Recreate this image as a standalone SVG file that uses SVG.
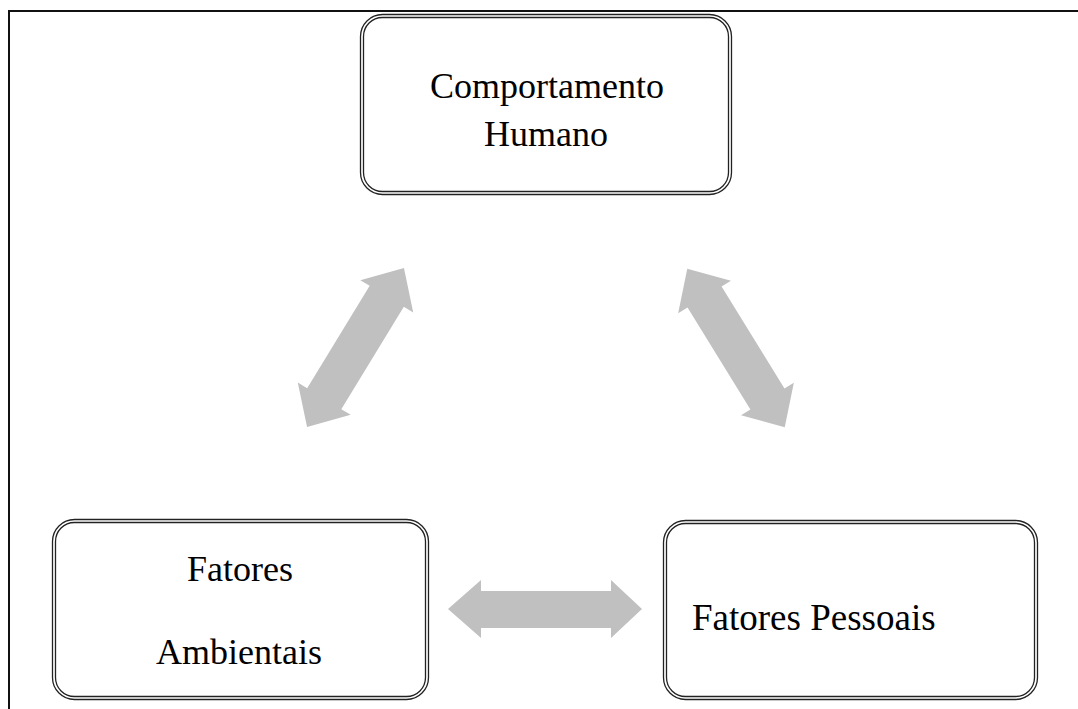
<svg xmlns="http://www.w3.org/2000/svg" width="1078" height="709" viewBox="0 0 1078 709">
<style>
.frame{stroke:#111;stroke-width:2;fill:none}
.bo{fill:#fff;stroke:#222;stroke-width:1.3}
.bi{fill:none;stroke:#222;stroke-width:1.3}
.t{font-family:"Liberation Serif","Times New Roman",serif;font-size:36px;fill:#000}
.arr{fill:#c0c0c0}
</style>
<defs>
<path id="dArr" d="M-93,0 L-60,-31 L-60,-20 L60,-20 L60,-31 L93,0 L60,31 L60,20 L-60,20 L-60,31 Z"/>
</defs>
<rect width="1078" height="709" fill="#fff"/>
<g id="frame">
<line class="frame" x1="8" y1="11" x2="1078" y2="11"/>
<line class="frame" x1="9" y1="10" x2="9" y2="709"/>
</g>
<g id="connectors">
<use href="#dArr" class="arr" transform="translate(355.5,347.5) rotate(-58.6)"/>
<use href="#dArr" class="arr" transform="translate(736,348) rotate(58.4)"/>
<path class="arr" d="M448,609 L481,580 L481,591 L611,591 L611,580 L642,609 L611,638 L611,628 L481,628 L481,638 Z"/>
</g>
<g id="node-comportamento">
<rect class="bo" x="360.5" y="14.5" width="371" height="180" rx="22"/>
<rect class="bi" x="363.5" y="17.5" width="365" height="174" rx="19"/>
<text class="t" x="547" y="98" text-anchor="middle">Comportamento</text>
<text class="t" x="546" y="146" text-anchor="middle">Humano</text>
</g>
<g id="node-ambientais">
<rect class="bo" x="52.5" y="519.5" width="376" height="180" rx="22"/>
<rect class="bi" x="55.5" y="522.5" width="370" height="174" rx="19"/>
<text class="t" x="240" y="581" text-anchor="middle">Fatores</text>
<text class="t" x="239" y="664" text-anchor="middle">Ambientais</text>
</g>
<g id="node-pessoais">
<rect class="bo" x="663.5" y="520.5" width="374" height="179" rx="22"/>
<rect class="bi" x="666.5" y="523.5" width="368" height="173" rx="19"/>
<text class="t" x="692" y="630" style="font-size:37px">Fatores Pessoais</text>
</g>
</svg>
